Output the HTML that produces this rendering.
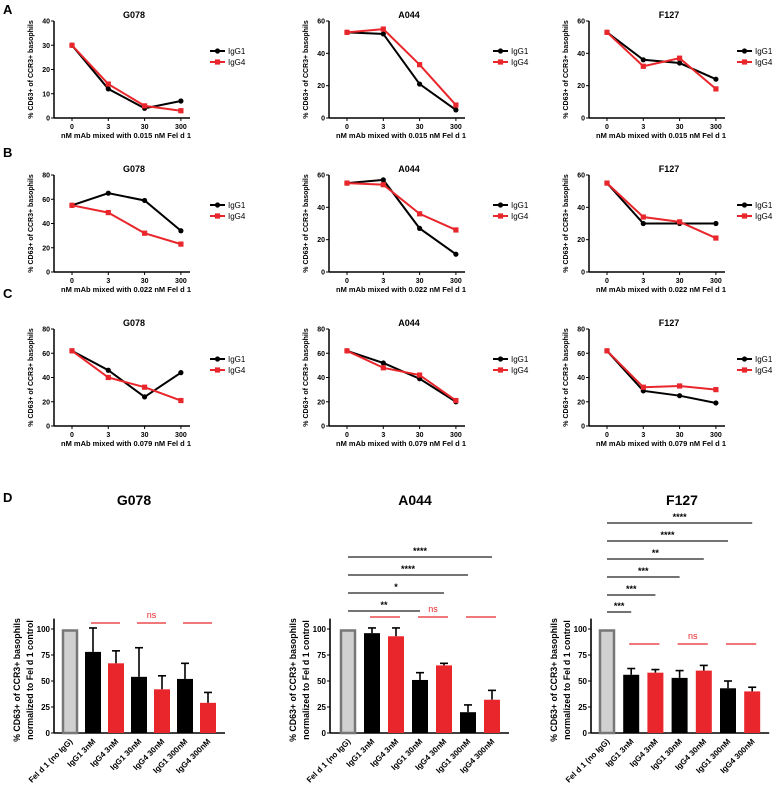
<!DOCTYPE html>
<html><head><meta charset="utf-8"><style>
html,body{margin:0;padding:0;background:#fff;}
svg{display:block;font-family:"Liberation Sans",sans-serif;font-weight:bold;}
</style></head><body>
<svg id="fig" width="779" height="789" viewBox="0 0 779 789" xmlns="http://www.w3.org/2000/svg"></svg>
<script>
// ---- line-chart data ----
const xCats = ['0','3','30','300'];
const chartTitles = ['G078','A044','F127'];
const felConc = ['0.015','0.022','0.079'];
const rowYMax = [[40,60,60],[80,60,60],[80,80,80]];
const rowYStep = [[10,20,20],[20,20,20],[20,20,20]];
const rowA_IgG1 = [[30,12,4,7],[53,52,21,5],[53,36,34,24]];
const rowA_IgG4 = [[30,14,5,3],[53,55,33,8],[53,32,37,18]];
const rowB_IgG1 = [[55,65,59,34],[55,57,27,11],[55,30,30,30]];
const rowB_IgG4 = [[55,49,32,23],[55,54,36,26],[55,34,31,21]];
const rowC_IgG1 = [[62,46,24,44],[62,52,39,20],[62,29,25,19]];
const rowC_IgG4 = [[62,40,32,21],[62,48,42,21],[62,32,33,30]];
// ---- bar-chart data ----
const barCats = ['Fel d 1 (no IgG)','IgG1 3nM','IgG4 3nM','IgG1 30nM','IgG4 30nM','IgG1 300nM','IgG4 300nM'];
const barTicks = [0,25,50,75,100];
const G078_vals = [100,78,67,54,42,52,29];
const G078_errs = [null,101,79,82,55,67,39];
const A044_vals = [100,96,93,51,65,20,32];
const A044_errs = [null,101,101,58,67,27,41];
const F127_vals = [100,56,58,53,60,43,40];
const F127_errs = [null,62,61,60,65,50,44];
const A044_sigTo = [3,4,5,6];
const A044_sigStars = ['**','*','****','****'];
const F127_sigTo = [1,2,3,4,5,6];
const F127_sigStars = ['***','***','***','**','****','****'];

const NS='http://www.w3.org/2000/svg';
const svg=document.getElementById('fig');
function mk(tag,attrs,parent,text){
  const e=document.createElementNS(NS,tag);
  for(const k in attrs)e.setAttribute(k,attrs[k]);
  if(text!==undefined)e.textContent=text;
  (parent||svg).appendChild(e);return e;
}
function letter(t,y){
  const e=mk('text',{x:3,y:y,'font-size':13},svg,t);
  
  
}
letter('A',14);letter('B',157);letter('C',298);letter('D',502);

const colAxis=[54,329,589];
const legendOff=[156,164,148];
const rowZero=[118,272,426];
const rowsIgG1=[rowA_IgG1,rowB_IgG1,rowC_IgG1];
const rowsIgG4=[rowA_IgG4,rowB_IgG4,rowC_IgG4];

function lineChart(r,c){
  const ax=colAxis[c], zy=rowZero[r], h=97, ymax=rowYMax[r][c], step=rowYStep[r][c];
  const g=mk('g',{});
  
  
  const Y=v=>zy-v/ymax*h;
  const X=i=>ax+18+i*36.3;
  mk('line',{x1:ax,y1:zy-h,x2:ax,y2:zy,stroke:'#000','stroke-width':1.5},g);
  mk('line',{x1:ax,y1:zy,x2:ax+136,y2:zy,stroke:'#000','stroke-width':1.5},g);
  for(let v=0;v<=ymax;v+=step){
    mk('line',{x1:ax-3,y1:Y(v),x2:ax,y2:Y(v),stroke:'#000','stroke-width':1},g);
    const t=mk('text',{x:ax-4,y:Y(v)+2.5,'font-size':7,'text-anchor':'end'},g,String(v));
    
    
  }
  xCats.forEach((lab,i)=>{
    mk('line',{x1:X(i),y1:zy,x2:X(i),y2:zy+3,stroke:'#000','stroke-width':1},g);
    const t=mk('text',{x:X(i),y:zy+11,'font-size':7,'text-anchor':'middle'},g,lab);
    
    
  });
  const xt=mk('text',{x:ax+72,y:zy+20,'font-size':7.5,'text-anchor':'middle'},g,'nM mAb mixed with '+felConc[r]+' nM Fel d 1');
  
  
  const yt=mk('text',{x:0,y:0,'font-size':7,'text-anchor':'middle',transform:`translate(${ax-21},${zy-h/2}) rotate(-90)`},g,'% CD63+ of CCR3+ basophils');
  
  
  const tt=mk('text',{x:ax+80,y:zy-h-3,'font-size':9,'text-anchor':'middle'},g,chartTitles[c]);
  
  
  const d1=rowsIgG1[r][c], d4=rowsIgG4[r][c];
  const p1=mk('polyline',{points:d1.map((v,i)=>X(i)+','+Y(v)).join(' '),fill:'none',stroke:'#000','stroke-width':2},g);
  
  
  d1.forEach((v,i)=>{const m=mk('circle',{cx:X(i),cy:Y(v),r:2.6,fill:'#000'},g);
    
    });
  const p4=mk('polyline',{points:d4.map((v,i)=>X(i)+','+Y(v)).join(' '),fill:'none',stroke:'#e8262b','stroke-width':2},g);
  
  
  d4.forEach((v,i)=>{const m=mk('rect',{x:X(i)-2.6,y:Y(v)-2.6,width:5.2,height:5.2,fill:'#e8262b'},g);
    
    });
  // legend
  const lx=ax+legendOff[c], ly=zy-h+30;
  [['IgG1','#000'],['IgG4','#e8262b']].forEach((s,k)=>{
    const lg=mk('g',{},g);
    
    
    mk('line',{x1:lx,y1:ly+k*11,x2:lx+15,y2:ly+k*11,stroke:s[1],'stroke-width':2},lg);
    if(k==0)mk('circle',{cx:lx+7.5,cy:ly,r:2.6,fill:s[1]},lg);
    else mk('rect',{x:lx+4.9,y:ly+11-2.6,width:5.2,height:5.2,fill:s[1]},lg);
    mk('text',{x:lx+18,y:ly+k*11+3,'font-size':8,'font-weight':'normal'},lg,s[0]);
  });
}
for(let r=0;r<3;r++)for(let c=0;c<3;c++)lineChart(r,c);

// ---- panel D ----
const barZero=733, barScale=1.04;
const barColors=['#d0d0d0','#000','#e8262b','#000','#e8262b','#000','#e8262b'];
function barChart(o){
  const g=mk('g',{});
  
  
  const Y=v=>barZero-v*barScale;
  const X=i=>o.ax+o.first+i*o.sp;
  const tt=mk('text',{x:o.tx,y:505,'font-size':14,'text-anchor':'middle'},g,o.title);
  
  
  mk('line',{x1:o.ax,y1:Y(110),x2:o.ax,y2:barZero,stroke:'#000','stroke-width':1.6},g);
  mk('line',{x1:o.ax,y1:barZero,x2:X(6)+17,y2:barZero,stroke:'#000','stroke-width':1.6},g);
  barTicks.forEach(v=>{
    mk('line',{x1:o.ax-3,y1:Y(v),x2:o.ax,y2:Y(v),stroke:'#000','stroke-width':1},g);
    const t=mk('text',{x:o.ax-4,y:Y(v)+3,'font-size':8,'text-anchor':'end'},g,String(v));
    
    
  });
  const yl=mk('text',{x:0,y:0,'font-size':8.8,'text-anchor':'middle',transform:`translate(${o.ax-27},680) rotate(-90)`},g);
  
  
  mk('tspan',{x:0,dy:-7},yl,'% CD63+ of CCR3+ basophils');
  mk('tspan',{x:0,dy:13},yl,'normalized to Fel d 1 control');
  o.vals.forEach((v,i)=>{
    const x=X(i);
    if(o.errs[i]!=null){
      const e=mk('g',{},g);
      
      
      mk('line',{x1:x,y1:Y(v),x2:x,y2:Y(o.errs[i]),stroke:'#000','stroke-width':1.6},e);
      mk('line',{x1:x-4,y1:Y(o.errs[i]),x2:x+4,y2:Y(o.errs[i]),stroke:'#000','stroke-width':1.6},e);
    }
    let b;
    if(i==0) b=mk('rect',{x:x-7,y:Y(v)+1.5,width:14,height:barZero-Y(v)-1.5,fill:barColors[i],stroke:'#777','stroke-width':2.5},g);
    else b=mk('rect',{x:x-8,y:Y(v),width:16,height:barZero-Y(v),fill:barColors[i]},g);
    
    
    const t=mk('text',{x:0,y:0,'font-size':8,'text-anchor':'end',transform:`translate(${x+3},${barZero+9}) rotate(-45)`},g,barCats[i]);
    
    
  });
  (o.sigTo||[]).forEach((j,k)=>{
    const y=o.sigY[k];
    const s=mk('g',{},g);
    
    
    mk('line',{x1:X(0),y1:y,x2:X(j),y2:y,stroke:'#222','stroke-width':1.3},s);
    mk('text',{x:(X(0)+X(j))/2,y:y-3,'font-size':9,'text-anchor':'middle'},s,o.stars[k]);
  });
  [[1,2],[3,4],[5,6]].forEach(p=>{
    const l=mk('line',{x1:X(p[0])-2,y1:o.nsY,x2:X(p[1])+4,y2:o.nsY,stroke:'#e8262b','stroke-width':1.3},g);
    
    
  });
  const ns=mk('text',{x:(X(3)+X(4))/2+1,y:o.nsY-5,'font-size':9,'text-anchor':'middle',fill:'#e8262b','font-weight':'normal'},g,'ns');
  
  
}
barChart({title:'G078',tx:134,ax:54,first:16,sp:23,vals:G078_vals,errs:G078_errs,nsY:623});
barChart({title:'A044',tx:415,ax:330,first:18,sp:24,vals:A044_vals,errs:A044_errs,nsY:617,
  sigTo:A044_sigTo,stars:A044_sigStars,sigY:[611,593,575,557]});
barChart({title:'F127',tx:682,ax:591,first:16,sp:24.2,vals:F127_vals,errs:F127_errs,nsY:644,
  sigTo:F127_sigTo,stars:F127_sigStars,sigY:[612,595,577,559,541,523]});
</script>
</body></html>
